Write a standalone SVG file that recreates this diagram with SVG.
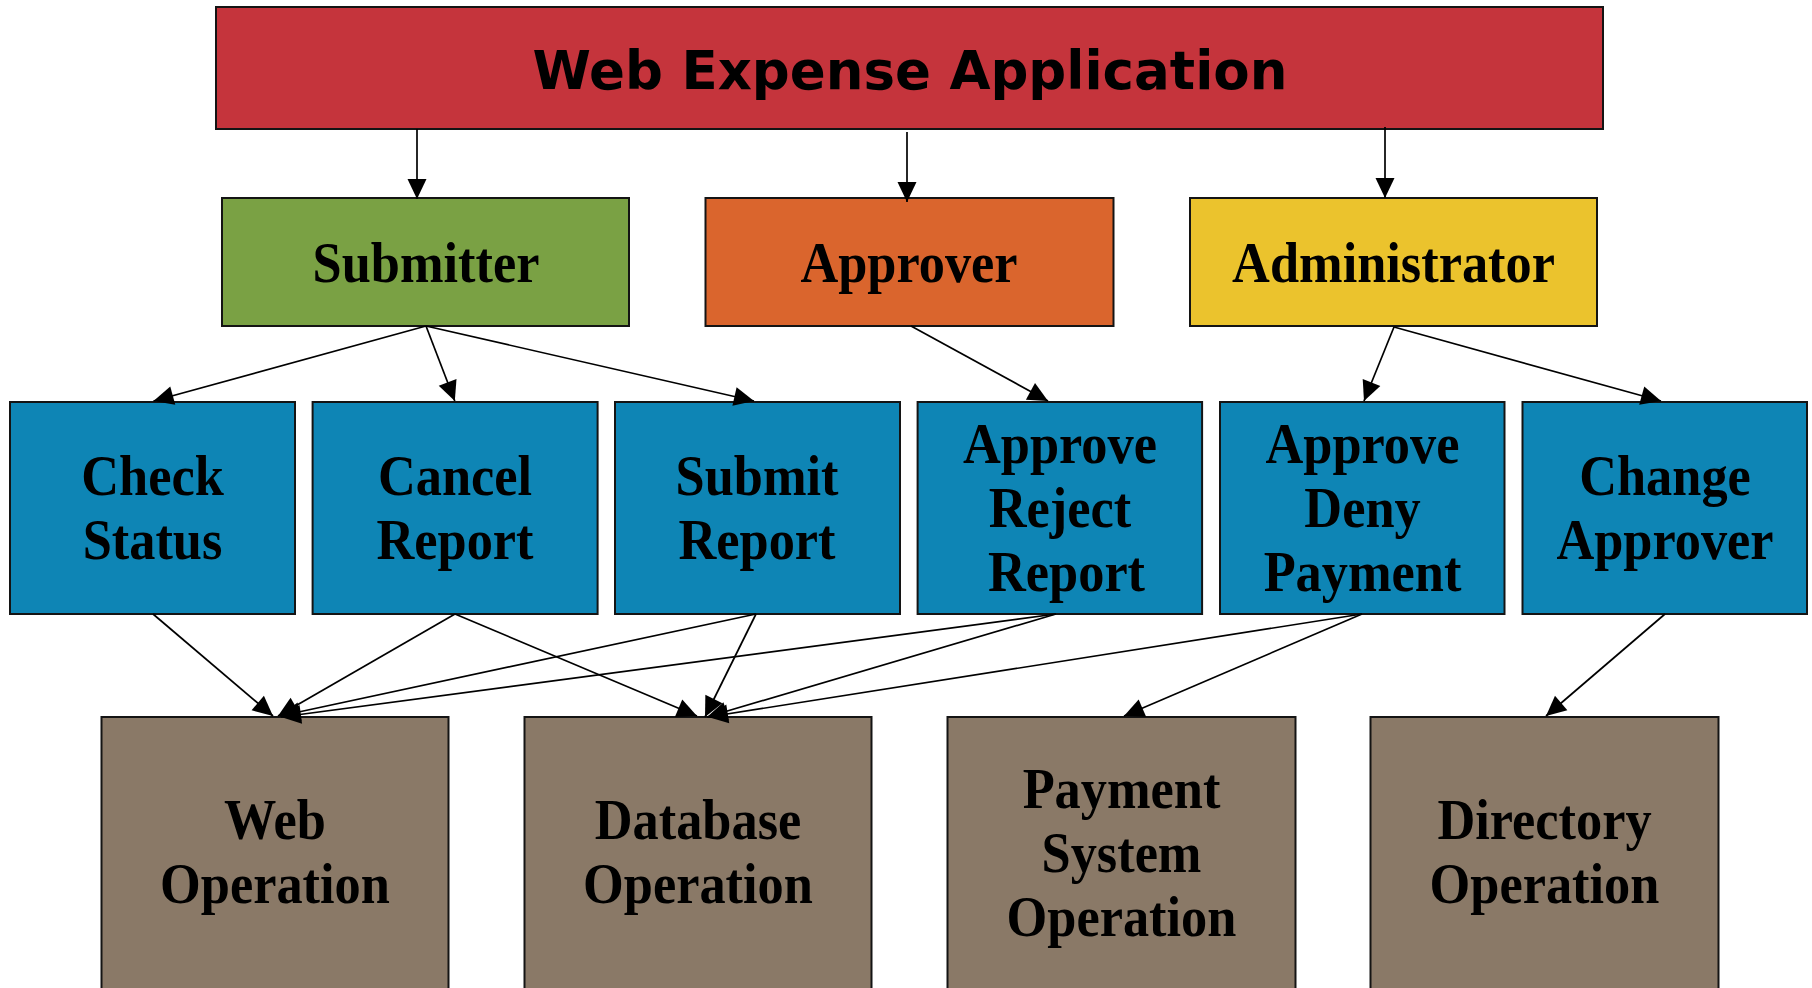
<svg xmlns="http://www.w3.org/2000/svg" width="1812" height="988" viewBox="0 0 1812 988">
  <style>
    .box { stroke: #141414; stroke-width: 2; }
    .app { fill: #C5343C; }
    .sub { fill: #7AA144; }
    .apr { fill: #DA652D; }
    .adm { fill: #EBC32D; }
    .act { fill: #0E85B5; }
    .ops { fill: #8A7967; }
    .title { font-family: "DejaVu Sans", Verdana, sans-serif; font-weight: bold; font-size: 53px; text-anchor: middle; fill: #000; }
    .lbl { font-family: "Liberation Serif", "Times New Roman", serif; font-weight: bold; font-size: 56px; text-anchor: middle; fill: #000; }
    .edge { stroke: #000; stroke-width: 1.7; fill: none; marker-end: url(#arrow); }
  </style>
  <defs>
    <marker id="arrow" markerUnits="userSpaceOnUse" markerWidth="20" markerHeight="20" refX="20" refY="9.5" orient="auto" overflow="visible">
      <path d="M0,0 L20,9.5 L0,19 z" fill="#000"/>
    </marker>
  </defs>

  <rect width="1812" height="988" fill="#fff"/>

  <!-- application -->
  <g id="web-expense-application">
    <rect class="box app" x="216" y="7" width="1387" height="122"/>
    <text class="title" x="910" y="89">Web Expense Application</text>
  </g>

  <!-- roles -->
  <g id="submitter">
    <rect class="box sub" x="222" y="198" width="407" height="128"/>
    <text class="lbl" transform="translate(426 0) scale(0.935 1)" x="0" y="282">Submitter</text>
  </g>
  <g id="approver">
    <rect class="box apr" x="705.5" y="198" width="408" height="128"/>
    <text class="lbl" transform="translate(909 0) scale(0.935 1)" x="0" y="282">Approver</text>
  </g>
  <g id="administrator">
    <rect class="box adm" x="1190" y="198" width="407" height="128"/>
    <text class="lbl" transform="translate(1393.5 0) scale(0.935 1)" x="0" y="282">Administrator</text>
  </g>

  <!-- actions -->
  <g id="check-status">
    <rect class="box act" x="10" y="402" width="285" height="212"/>
    <text class="lbl" transform="translate(152.5 0) scale(0.935 1)"><tspan x="0" y="495">Check</tspan><tspan x="0" y="559">Status</tspan></text>
  </g>
  <g id="cancel-report">
    <rect class="box act" x="312.6" y="402" width="285" height="212"/>
    <text class="lbl" transform="translate(455 0) scale(0.935 1)"><tspan x="0" y="495">Cancel</tspan><tspan x="0" y="559">Report</tspan></text>
  </g>
  <g id="submit-report">
    <rect class="box act" x="615" y="402" width="285" height="212"/>
    <text class="lbl" transform="translate(757 0) scale(0.935 1)"><tspan x="0" y="495">Submit</tspan><tspan x="0" y="559">Report</tspan></text>
  </g>
  <g id="approve-reject-report">
    <rect class="box act" x="917.6" y="402" width="284.5" height="212"/>
    <text class="lbl" transform="translate(1060 0) scale(0.935 1)"><tspan x="0" y="463">Approve</tspan><tspan x="0" y="527">Reject</tspan><tspan x="7" y="591">Report</tspan></text>
  </g>
  <g id="approve-deny-payment">
    <rect class="box act" x="1220" y="402" width="284.5" height="212"/>
    <text class="lbl" transform="translate(1362.5 0) scale(0.935 1)"><tspan x="0" y="463">Approve</tspan><tspan x="0" y="527">Deny</tspan><tspan x="0" y="591">Payment</tspan></text>
  </g>
  <g id="change-approver">
    <rect class="box act" x="1522.5" y="402" width="284.5" height="212"/>
    <text class="lbl" transform="translate(1665 0) scale(0.935 1)"><tspan x="0" y="495">Change</tspan><tspan x="0" y="559">Approver</tspan></text>
  </g>

  <!-- back-end operations (boxes run past the lower edge) -->
  <g id="web-operation">
    <rect class="box ops" x="101.5" y="717" width="347" height="290"/>
    <text class="lbl" transform="translate(275 0) scale(0.935 1)"><tspan x="0" y="839">Web</tspan><tspan x="0" y="903">Operation</tspan></text>
  </g>
  <g id="database-operation">
    <rect class="box ops" x="524.5" y="717" width="347" height="290"/>
    <text class="lbl" transform="translate(698 0) scale(0.935 1)"><tspan x="0" y="839">Database</tspan><tspan x="0" y="903">Operation</tspan></text>
  </g>
  <g id="payment-system-operation">
    <rect class="box ops" x="947.5" y="717" width="348" height="290"/>
    <text class="lbl" transform="translate(1121.5 0) scale(0.935 1)"><tspan x="0" y="808">Payment</tspan><tspan x="0" y="872">System</tspan><tspan x="0" y="936">Operation</tspan></text>
  </g>
  <g id="directory-operation">
    <rect class="box ops" x="1370.5" y="717" width="348" height="290"/>
    <text class="lbl" transform="translate(1544.5 0) scale(0.935 1)"><tspan x="0" y="839">Directory</tspan><tspan x="0" y="903">Operation</tspan></text>
  </g>

  <!-- connectors -->
  <g id="connectors">
    <path class="edge" d="M417,129 L417,199"/>
    <path class="edge" d="M907,132 L907,202"/>
    <path class="edge" d="M1385,127 L1385,198"/>

    <path class="edge" d="M426,326 L153.5,401"/>
    <path class="edge" d="M426,326 L454.8,401"/>
    <path class="edge" d="M426,326 L754,401"/>
    <path class="edge" d="M911,326 L1048,401"/>
    <path class="edge" d="M1394,327 L1364,401"/>
    <path class="edge" d="M1394,327 L1661,401"/>

    <path class="edge" d="M153,614 L273,716"/>
    <path class="edge" d="M455,614 L278,716"/>
    <path class="edge" d="M455,614 L697,716"/>
    <path class="edge" d="M756,614 L280,716"/>
    <path class="edge" d="M756,614 L705,717"/>
    <path class="edge" d="M1056,614 L281,717"/>
    <path class="edge" d="M1056,614 L707,717"/>
    <path class="edge" d="M1362,614 L708,717"/>
    <path class="edge" d="M1362,614 L1124,716"/>
    <path class="edge" d="M1665,614 L1546,716"/>
  </g>
</svg>
